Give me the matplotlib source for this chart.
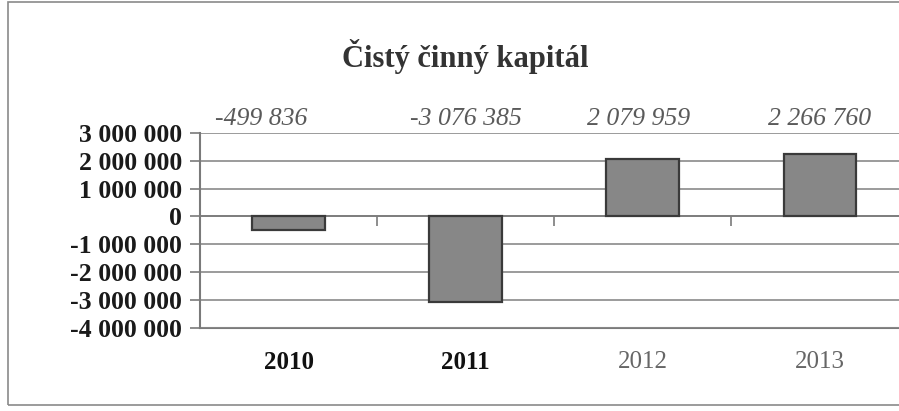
import matplotlib
matplotlib.use("Agg")
import matplotlib.pyplot as plt
from matplotlib.patches import Rectangle

# data
years = ["2010", "2011", "2012", "2013"]
values = [-499836, -3076385, 2079959, 2266760]
value_labels = ["-499 836", "-3 076 385", "2 079 959", "2 266 760"]
y_ticks = [3000000, 2000000, 1000000, 0, -1000000, -2000000, -3000000, -4000000]
y_tick_labels = ["3 000 000", "2 000 000", "1 000 000", "0", "-1 000 000",
                 "-2 000 000", "-3 000 000", "-4 000 000"]

# horizontal nudges (points) for the value labels, as in the scan
label_dx = [-20, 0, -3, 0]

plt.rcParams['font.family'] = ['Liberation Serif', 'DejaVu Serif']

fig = plt.figure(figsize=(8.99, 4.11), dpi=100)
ax = fig.add_axes([0.2225, 0.203, 0.788, 0.473])

x = list(range(len(years)))
ax.bar(x, values, width=0.41, color='#878787', edgecolor='#3a3a3a', linewidth=1.6, zorder=3)

ax.set_xlim(-0.5, 3.5)
ax.set_ylim(-4000000, 3000000)

# gridlines
ax.set_yticks(y_ticks)
ax.set_yticklabels(y_tick_labels, fontsize=18.5, fontweight='bold', color='#1a1a1a')
ax.yaxis.grid(True, color='#8a8a8a', linewidth=1.2, zorder=0)
ax.tick_params(axis='y', length=7, width=1.2, color='#7a7a7a', pad=6)

# category axis crosses at zero
ax.spines['bottom'].set_position(('data', 0))
ax.spines['bottom'].set_color('#7a7a7a')
ax.spines['bottom'].set_linewidth(1.2)
ax.set_xticks([0.5, 1.5, 2.5])
ax.set_xticklabels([])
ax.tick_params(axis='x', length=7, width=1.2, color='#7a7a7a', direction='out')
ax.spines['left'].set_color('#7a7a7a')
ax.spines['left'].set_linewidth(1.5)
ax.spines['top'].set_visible(False)
ax.spines['right'].set_visible(False)

# category labels below the plot area
sec = ax.secondary_xaxis('bottom')
sec.set_xticks(x)
sec.set_xticklabels(years, fontsize=18)
sec.tick_params(length=0, pad=17)
sec.spines['bottom'].set_color('#7a7a7a')
sec.spines['bottom'].set_linewidth(1.5)
for i, lab in enumerate(sec.get_xticklabels()):
    if i < 2:
        lab.set_fontweight('bold')
        lab.set_color('#111111')
    else:
        lab.set_color('#666666')

# value labels above the plot area
for xi, lab, dx in zip(x, value_labels, label_dx):
    ax.annotate(lab, xy=(xi, 1.0), xycoords=('data', 'axes fraction'),
                xytext=(dx, 10), textcoords='offset points', ha='center', va='center',
                fontsize=18.5, fontstyle='italic', color='#5a5a5a')

fig.text(0.518, 0.862, "Čistý činný kapitál", ha='center', va='center',
         fontsize=22, fontweight='bold', color='#333333')

# outer chart frame
fig.patches.append(Rectangle((0.009, 0.015), 1.2, 0.98, transform=fig.transFigure,
                             fill=False, edgecolor='#8a8a8a', linewidth=1.2))

fig.savefig("out.png", dpi=100, facecolor='white')
